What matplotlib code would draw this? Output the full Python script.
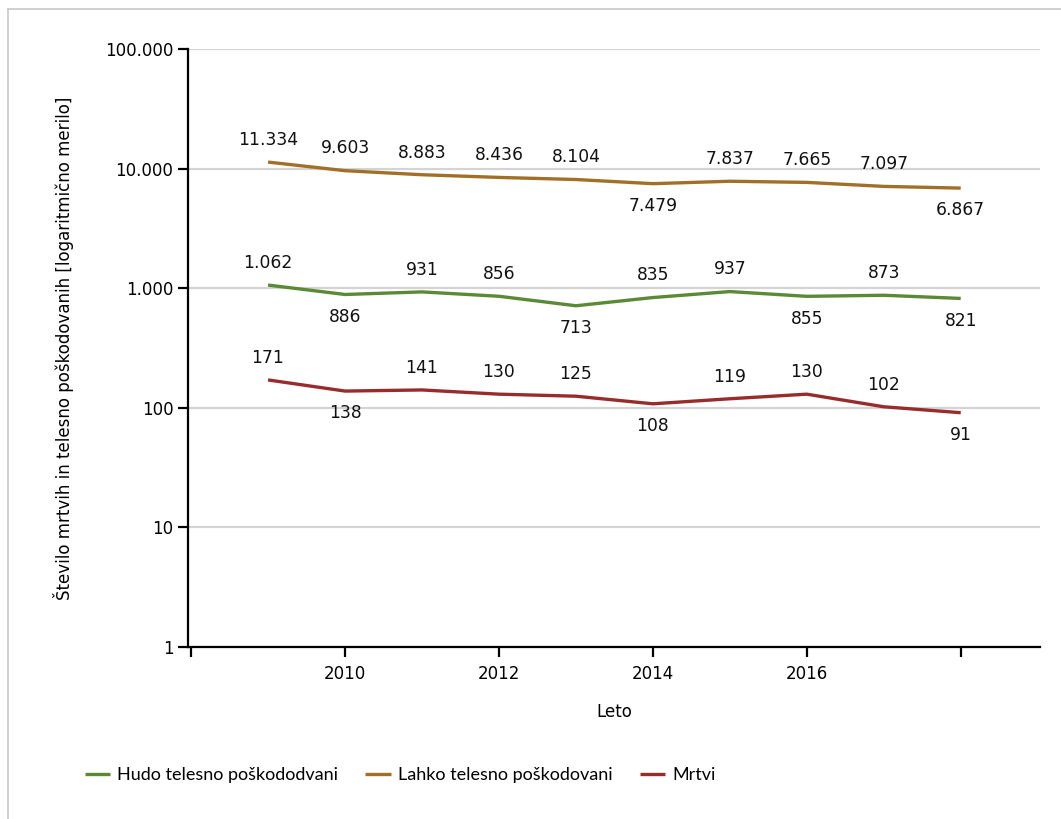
import matplotlib
matplotlib.use('Agg')
import matplotlib.pyplot as plt
from matplotlib.lines import Line2D
from matplotlib.ticker import FixedLocator, NullLocator

# Data
years = [2009, 2010, 2011, 2012, 2013, 2014, 2015, 2016, 2017, 2018]
hudo = [1062, 886, 931, 856, 713, 835, 937, 855, 873, 821]
lahko = [11334, 9603, 8883, 8436, 8104, 7479, 7837, 7665, 7097, 6867]
mrtvi = [171, 138, 141, 130, 125, 108, 119, 130, 102, 91]

# label placement: +1 above the line, -1 below
hudo_pos = [1, -1, 1, 1, -1, 1, 1, -1, 1, -1]
lahko_pos = [1, 1, 1, 1, 1, -1, 1, 1, 1, -1]
mrtvi_pos = [1, -1, 1, 1, 1, -1, 1, 1, 1, -1]

yticks = [1, 10, 100, 1000, 10000, 100000]
ytick_labels = ['1', '10', '100', '1.000', '10.000', '100.000']
xticks = [2008, 2010, 2012, 2014, 2016, 2018]
xtick_labels = ['', '2010', '2012', '2014', '2016', '']

GREEN = '#5a8a34'
BROWN = '#a26f28'
RED = '#982c2c'

plt.rcParams['font.family'] = ['DejaVu Sans']

fig = plt.figure(figsize=(10.61, 8.19), dpi=100)
ax = fig.add_axes([0.1772, 0.21, 0.803, 0.7302])

# outer frame lines (top and left)
fig.add_artist(Line2D([8 / 1061, 1.0], [1 - 9 / 819, 1 - 9 / 819],
                      color='#c8c8c8', lw=1.2, transform=fig.transFigure))
fig.add_artist(Line2D([8 / 1061, 8 / 1061], [0.0, 1 - 9 / 819],
                      color='#c8c8c8', lw=1.2, transform=fig.transFigure))

series = [
    (hudo, hudo_pos, GREEN, 'Hudo telesno poškododvani'),
    (lahko, lahko_pos, BROWN, 'Lahko telesno poškodovani'),
    (mrtvi, mrtvi_pos, RED, 'Mrtvi'),
]

for vals, pos, col, lbl in series:
    ax.plot(years, vals, color=col, lw=2.4, label=lbl, solid_capstyle='butt')
    for x, v, p in zip(years, vals, pos):
        txt = f'{v:,}'.replace(',', '.')
        ax.annotate(txt, (x, v), xytext=(0, 16 * p), textcoords='offset points',
                    ha='center', va='center', fontsize=12.3, color='#111111')

ax.set_yscale('log')
ax.set_ylim(1, 100000)
ax.set_xlim(2007.96, 2019.03)
ax.yaxis.set_major_locator(FixedLocator(yticks))
ax.yaxis.set_minor_locator(NullLocator())
ax.set_yticklabels(ytick_labels)
ax.set_xticks(xticks)
ax.set_xticklabels(xtick_labels)

ax.grid(True, axis='y', color='#d4d4d4', lw=1.6)
ax.set_axisbelow(True)
for s in ['top', 'right']:
    ax.spines[s].set_visible(False)
for s in ['left', 'bottom']:
    ax.spines[s].set_linewidth(1.6)
    ax.spines[s].set_color('black')
ax.tick_params(axis='both', length=7, width=1.6, labelsize=12, colors='black')
ax.tick_params(axis='x', pad=6)

ax.set_ylabel('Število mrtvih in telesno poškodovanih [logaritmično merilo]',
              fontsize=12, labelpad=22)
ax.set_xlabel('Leto', fontsize=12, labelpad=14)

ax.legend(loc='upper center', bbox_to_anchor=(0.249, -0.174), ncol=3, frameon=False,
          handlelength=1.4, handletextpad=0.4, columnspacing=1.5,
          prop={'family': ['Lato', 'DejaVu Sans'], 'size': 13})

fig.savefig('out.png', dpi=100)
